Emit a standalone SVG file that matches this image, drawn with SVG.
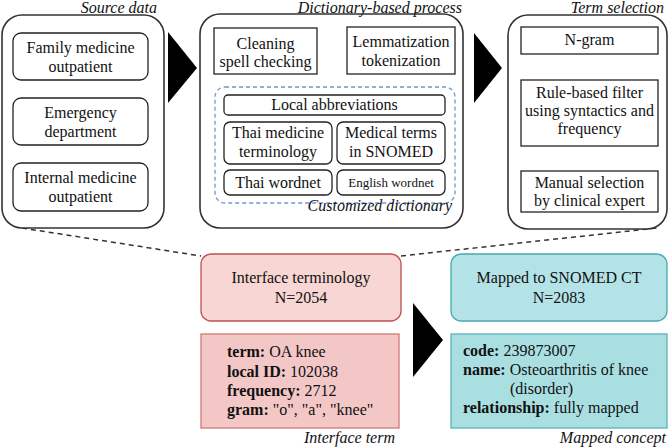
<svg xmlns="http://www.w3.org/2000/svg" width="669" height="448" viewBox="0 0 669 448" font-family="Liberation Serif" font-size="16">
<style>
text{fill:#111}
.c{text-anchor:middle}
.lab{font-style:italic;text-anchor:end}
.outer{fill:#fff;stroke:#333;stroke-width:1.6}
.inner{fill:#fff;stroke:#222;stroke-width:1.3}
.arr{fill:#000}
.b{font-weight:bold}
</style>
<rect width="669" height="448" fill="#fff"/>
<g id="connectors">
<line x1="22" y1="228" x2="201" y2="256" stroke="#333" stroke-width="1.5" stroke-dasharray="5,4"/>
<line x1="401" y1="256" x2="657" y2="228" stroke="#333" stroke-width="1.5" stroke-dasharray="5,4"/>
<polygon class="arr" points="168,32 197,68 168,103"/>
<polygon class="arr" points="474,33 502,68 474,103"/>
<polygon class="arr" points="327,33 342,50 327,67"/>
<polygon class="arr" points="548,61 605,61 577,74"/>
<polygon class="arr" points="548,152 605,152 577,166"/>
<polygon class="arr" points="413,303 443,340 413,377"/>
</g>
<g id="source-data">
<rect class="outer" x="2" y="15" width="162" height="213" rx="20"/>
<text class="lab" x="157" y="13" font-family="Liberation Serif">Source data</text>
<g id="family">
<rect class="inner" x="13" y="33" width="135" height="47" rx="8"/>
<text class="c" x="80.5" y="53" font-family="Liberation Serif">Family medicine</text>
<text class="c" x="80.5" y="72" font-family="Liberation Serif">outpatient</text>
</g>
<g id="emergency">
<rect class="inner" x="13" y="98" width="135" height="47" rx="8"/>
<text class="c" x="80.5" y="118" font-family="Liberation Serif">Emergency</text>
<text class="c" x="80.5" y="137" font-family="Liberation Serif">department</text>
</g>
<g id="internal">
<rect class="inner" x="13" y="163" width="135" height="48" rx="8"/>
<text class="c" x="80.5" y="183" font-family="Liberation Serif">Internal medicine</text>
<text class="c" x="80.5" y="202" font-family="Liberation Serif">outpatient</text>
</g>
</g>
<g id="dictionary-process">
<rect class="outer" x="200" y="14" width="263" height="214" rx="20"/>
<text class="lab" x="462" y="13" font-family="Liberation Serif">Dictionary-based process</text>
<g id="cleaning">
<rect class="inner" x="214" y="28" width="103" height="46"/>
<text class="c" x="265.5" y="49" font-family="Liberation Serif">Cleaning</text>
<text class="c" x="265.5" y="67" font-family="Liberation Serif">spell checking</text>
</g>
<g id="lemmatization">
<rect class="inner" x="347" y="27" width="108" height="47"/>
<text class="c" x="401" y="47" font-family="Liberation Serif">Lemmatization</text>
<text class="c" x="401" y="66" font-family="Liberation Serif">tokenization</text>
</g>
<g id="customized-dictionary">
<rect x="215" y="87" width="240" height="116" rx="10" fill="none" stroke="#6f97d4" stroke-width="1.3" stroke-dasharray="4,3"/>
<text class="lab" x="452" y="211" font-family="Liberation Serif">Customized dictionary</text>
<g id="local-abbr">
<rect class="inner" x="224" y="95" width="221" height="20" rx="4"/>
<text class="c" x="334.5" y="110" font-family="Liberation Serif">Local abbreviations</text>
</g>
<g id="thai-med">
<rect class="inner" x="224" y="122" width="108" height="42" rx="6"/>
<text class="c" x="278" y="138" font-family="Liberation Serif">Thai medicine</text>
<text class="c" x="278" y="157" font-family="Liberation Serif">terminology</text>
</g>
<g id="snomed-terms">
<rect class="inner" x="337" y="122" width="108" height="42" rx="6"/>
<text class="c" x="391" y="138" font-family="Liberation Serif">Medical terms</text>
<text class="c" x="391" y="157" font-family="Liberation Serif">in SNOMED</text>
</g>
<g id="thai-wordnet">
<rect class="inner" x="224" y="170" width="108" height="25" rx="6"/>
<text class="c" x="278" y="188" font-family="Liberation Serif">Thai wordnet</text>
</g>
<g id="english-wordnet">
<rect class="inner" x="337" y="170" width="108" height="25" rx="6"/>
<text class="c" x="391" y="187" font-family="Liberation Serif" font-size="13">English wordnet</text>
</g>
</g>
</g>
<g id="term-selection">
<rect class="outer" x="508" y="15" width="159" height="214" rx="20"/>
<text class="lab" x="664" y="13" font-family="Liberation Serif">Term selection</text>
<g id="ngram">
<rect class="inner" x="521" y="27" width="137" height="27"/>
<text class="c" x="589.5" y="45" font-family="Liberation Serif">N-gram</text>
</g>
<g id="rule-filter">
<rect class="inner" x="521" y="80" width="137" height="66"/>
<text class="c" x="589.5" y="98" font-family="Liberation Serif">Rule-based filter</text>
<text class="c" x="589.5" y="116" font-family="Liberation Serif">using syntactics and</text>
<text class="c" x="589.5" y="134" font-family="Liberation Serif">frequency</text>
</g>
<g id="manual">
<rect class="inner" x="521" y="171" width="137" height="41"/>
<text class="c" x="589.5" y="188" font-family="Liberation Serif">Manual selection</text>
<text class="c" x="589.5" y="206" font-family="Liberation Serif">by clinical expert</text>
</g>
</g>
<g id="interface-terminology">
<rect x="201" y="254" width="200" height="67" rx="10" fill="#f8d6d4" stroke="#c0504d" stroke-width="1.3"/>
<text class="c" x="301" y="283" font-family="Liberation Serif">Interface terminology</text>
<text class="c" x="301" y="303" font-family="Liberation Serif">N=2054</text>
</g>
<g id="interface-term">
<rect x="201" y="334" width="198" height="94" fill="#f4c7c7" stroke="#d27a76" stroke-width="1.3"/>
<text x="227" y="357" font-family="Liberation Serif"><tspan class="b">term:</tspan> OA knee</text>
<text x="227" y="377" font-family="Liberation Serif"><tspan class="b">local ID:</tspan> 102038</text>
<text x="227" y="396" font-family="Liberation Serif"><tspan class="b">frequency:</tspan> 2712</text>
<text x="227" y="415" font-family="Liberation Serif"><tspan class="b">gram:</tspan> "o", "a", "knee"</text>
<text class="lab" x="395" y="443" font-family="Liberation Serif">Interface term</text>
</g>
<g id="mapped-snomed">
<rect x="451" y="254" width="216" height="67" rx="10" fill="#b4e3e7" stroke="#46a8b2" stroke-width="1.3"/>
<text class="c" x="559" y="283" font-family="Liberation Serif">Mapped to SNOMED CT</text>
<text class="c" x="559" y="303" font-family="Liberation Serif">N=2083</text>
</g>
<g id="mapped-concept">
<rect x="451" y="334" width="216" height="94" fill="#aadfe2" stroke="#5ab3bb" stroke-width="1.3"/>
<text x="463" y="356" font-family="Liberation Serif"><tspan class="b">code:</tspan> 239873007</text>
<text x="463" y="375" font-family="Liberation Serif"><tspan class="b">name:</tspan> Osteoarthritis of knee</text>
<text x="510" y="394" font-family="Liberation Serif">(disorder)</text>
<text x="463" y="413" font-family="Liberation Serif"><tspan class="b">relationship:</tspan> fully mapped</text>
<text class="lab" x="666" y="443" font-family="Liberation Serif">Mapped concept</text>
</g>
</svg>
